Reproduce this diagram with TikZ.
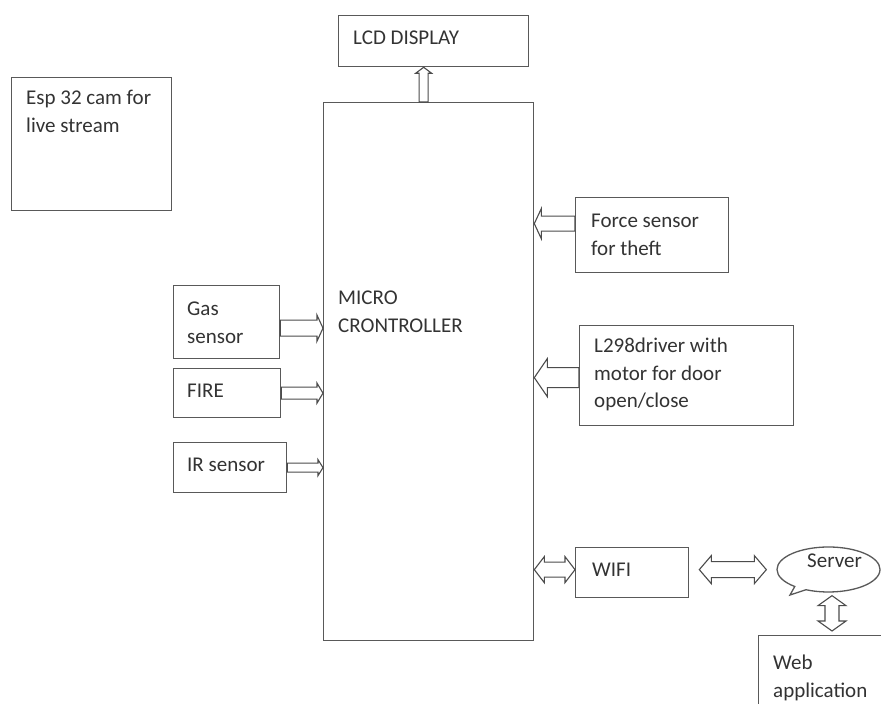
\documentclass[tikz,border=0pt]{standalone}
\usepackage{fontspec}
\setmainfont{Carlito}
\usepackage{tikz}
\usetikzlibrary{calc, positioning, shapes.callouts}
\tikzset{
    box/.style={rectangle, draw=black!65, line width=1.3pt, fill=white, inner sep=0pt, anchor=north west},
    txt/.style={inner sep=0pt, align=left, anchor=base west, text=black!80},
    blockarrow/.style={draw=black!70, line width=1.1pt, fill=white, line join=miter},
    bubble/.style={ellipse callout, draw=black!65, line width=1.3pt, fill=white, inner sep=0pt}
}
% single block arrow: from, to, shaft half width, head half width, head length
\newcommand{\onearrow}[5]{%
    \coordinate (ba-h) at ($(#2)!#5!(#1)$);
    \draw[blockarrow] ($(#1)!#3!90:(#2)$) -- ($(ba-h)!#3!90:(#2)$) -- ($(ba-h)!#4!90:(#2)$) -- (#2)
        -- ($(ba-h)!#4!-90:(#2)$) -- ($(ba-h)!#3!-90:(#2)$) -- ($(#1)!#3!-90:(#2)$) -- cycle;}
% double block arrow
\newcommand{\twoarrow}[5]{%
    \coordinate (ba-p) at ($(#1)!#5!(#2)$);
    \coordinate (ba-q) at ($(#2)!#5!(#1)$);
    \draw[blockarrow] (#1) -- ($(ba-p)!#4!90:(#2)$) -- ($(ba-p)!#3!90:(#2)$) -- ($(ba-q)!#3!90:(#2)$)
        -- ($(ba-q)!#4!90:(#2)$) -- (#2) -- ($(ba-q)!#4!-90:(#2)$) -- ($(ba-q)!#3!-90:(#2)$)
        -- ($(ba-p)!#3!-90:(#2)$) -- ($(ba-p)!#4!-90:(#2)$) -- cycle;}

\begin{document}
\begin{tikzpicture}[x=1pt, y=1pt, every node/.style={font=\fontsize{21}{27.5}\selectfont}]
    \useasboundingbox[fill=white] (0,0) rectangle (881,704);

    % boxes
    \node[box, minimum width=190, minimum height=51] (lcd) at (338,689) {};
    \node[box, minimum width=210, minimum height=538] (micro) at (323,602) {};
    \node[box, minimum width=160, minimum height=133] (esp) at (11,627) {};
    \node[box, minimum width=153, minimum height=75] (force) at (575,507) {};
    \node[box, minimum width=106, minimum height=73] (gas) at (173,419) {};
    \node[box, minimum width=107, minimum height=49] (fire) at (173,336) {};
    \node[box, minimum width=113, minimum height=50] (ir) at (173,262) {};
    \node[box, minimum width=214, minimum height=100] (driver) at (579,379) {};
    \node[box, minimum width=113, minimum height=50] (wifi) at (575,157) {};
    \node[box, minimum width=140, minimum height=90] (web) at (758,69) {};
    \node[bubble, minimum width=103, minimum height=45, callout absolute pointer={(790,109)}] (server) at (828.5,134.5) {};

    % texts (multi-line nodes sit on their last baseline)
    \node[txt] (lcdtxt) at (353,659) {LCD DISPLAY};
    \node[txt] (esptxt) at (26,571.5) {Esp 32 cam for\\live stream};
    \node[txt] (microtxt) at (338,371.5) {MICRO\\CRONTROLLER};
    \node[txt] (forcetxt) at (591,448.5) {Force sensor\\for theft};
    \node[txt] (gastxt) at (187,360.5) {Gas\\sensor};
    \node[txt] (firetxt) at (187,306) {FIRE};
    \node[txt] (irtxt) at (187,232) {IR sensor};
    \node[txt] (drivertxt) at (594,296) {L298driver with\\motor for door\\open/close};
    \node[txt] (wifitxt) at (592,127) {WIFI};
    \node[txt] (servertxt) at (807,136) {Server};
    \node[txt] (webtxt) at (773,6.5) {Web\\application};

    % arrow ends
    \coordinate (lcdtip) at ([xshift=-10]lcd.south);
    \coordinate (forceout) at ([yshift=11.5]force.west);
    \coordinate (gasout) at ([yshift=-6]gas.east);
    \coordinate (driverout) at ([yshift=-2]driver.west);
    \coordinate (wifiin) at ([yshift=3]wifi.west);
    \coordinate (wifiout) at ([shift={(10,3)}]wifi.east);
    \coordinate (serverin) at ([xshift=-10]server.west);
    \coordinate (serverlow) at ([shift={(3.5,-3)}]server.south);
    \coordinate (webtop) at ([shift={(4,4)}]web.north);

    \onearrow{lcdtip |- micro.north}{lcdtip}{4.5pt}{8pt}{6pt}
    \onearrow{forceout}{forceout -| micro.east}{7.5pt}{15pt}{7pt}
    \onearrow{gasout}{gasout -| micro.west}{8pt}{13pt}{6pt}
    \onearrow{fire.east}{fire.east -| micro.west}{6pt}{10pt}{6pt}
    \onearrow{ir.east}{ir.east -| micro.west}{4.5pt}{8pt}{5pt}
    \onearrow{driverout}{driverout -| micro.east}{10pt}{19pt}{13pt}
    \twoarrow{wifiin -| micro.east}{wifiin}{7.5pt}{13pt}{10pt}
    \twoarrow{wifiout}{serverin |- wifiout}{8pt}{14pt}{12pt}
    \twoarrow{serverlow}{webtop -| serverlow}{7pt}{14pt}{10pt}
\end{tikzpicture}
\end{document}
